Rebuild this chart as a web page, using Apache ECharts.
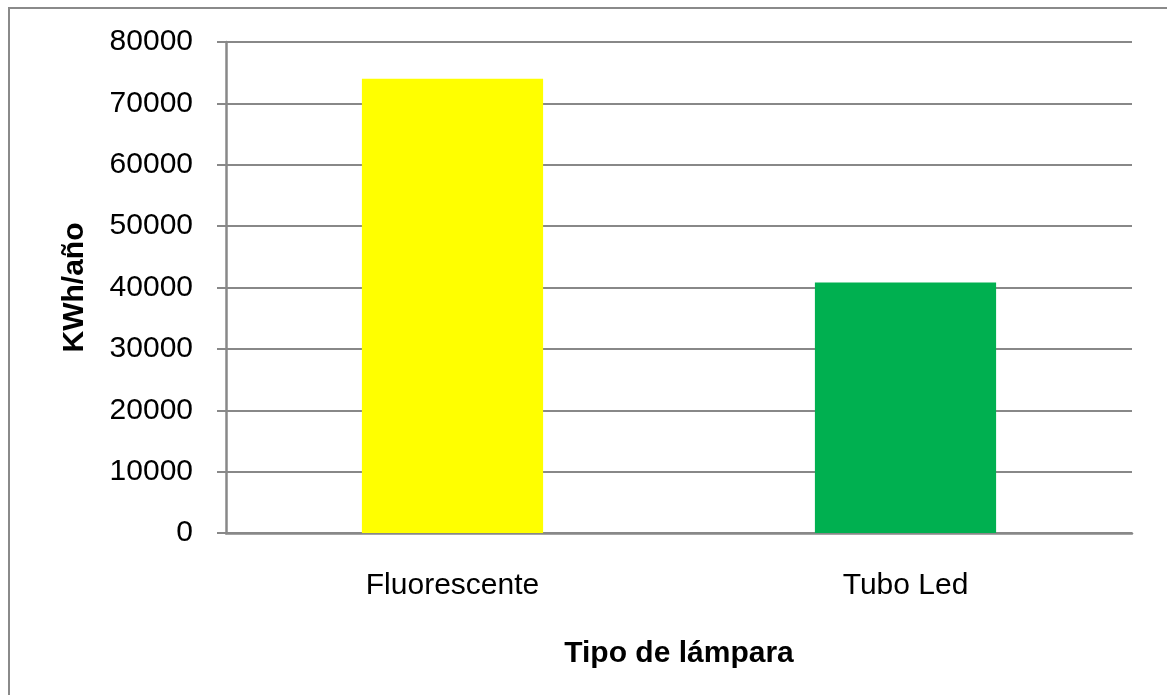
<!DOCTYPE html>
<html>
<head>
<meta charset="utf-8">
<script src="https://cdn.jsdelivr.net/npm/echarts@6/dist/echarts.min.js"></script>
<style>
  html, body { margin: 0; padding: 0; background: #fff; }
  #chart { width: 1167px; height: 695px; }
</style>
</head>
<body>
<div id="chart"></div>
<script>
// datos del gráfico
const categorias = ['Fluorescente', 'Tubo Led'];
const consumo = [74000, 40800];
const colores = ['#FFFF00', '#00B050'];
const ejeY = { min: 0, max: 80000, interval: 10000 };

const chart = echarts.init(document.getElementById('chart'));
const fuente = '"Liberation Sans", Arial, sans-serif';

chart.setOption({
  animation: false,
  grid: { left: 226, right: 35, top: 42, bottom: 162 },
  // marco exterior
  graphic: [{
    type: 'rect',
    shape: { x: 9, y: 8, width: 1200, height: 720 },
    style: { fill: 'none', stroke: '#8a8a8a', lineWidth: 2 },
    silent: true
  }],
  xAxis: {
    type: 'category',
    data: categorias,
    name: 'Tipo de lámpara',
    nameLocation: 'middle',
    nameGap: 106,
    nameTextStyle: { fontFamily: fuente, fontSize: 30, fontWeight: 'bold', color: '#000' },
    axisLine: { lineStyle: { color: '#888', width: 2.5 } },
    axisTick: { show: false },
    axisLabel: { fontFamily: fuente, fontSize: 30, color: '#000', margin: 38 }
  },
  yAxis: {
    type: 'value',
    min: ejeY.min,
    max: ejeY.max,
    interval: ejeY.interval,
    name: 'KWh/año',
    nameLocation: 'middle',
    nameGap: 136,
    nameTextStyle: { fontFamily: fuente, fontSize: 30, fontWeight: 'bold', color: '#000' },
    axisLine: { show: true, lineStyle: { color: '#888', width: 2.5 } },
    axisTick: { show: true, length: 9, lineStyle: { color: '#888', width: 2 } },
    axisLabel: { fontFamily: fuente, fontSize: 30, color: '#000', margin: 33, formatter: (v) => String(v) },
    splitLine: { lineStyle: { color: '#888', width: 2 } }
  },
  series: [{
    type: 'bar',
    barWidth: '40%',
    data: consumo.map((v, i) => ({ value: v, itemStyle: { color: colores[i] } }))
  }]
});
</script>
</body>
</html>
